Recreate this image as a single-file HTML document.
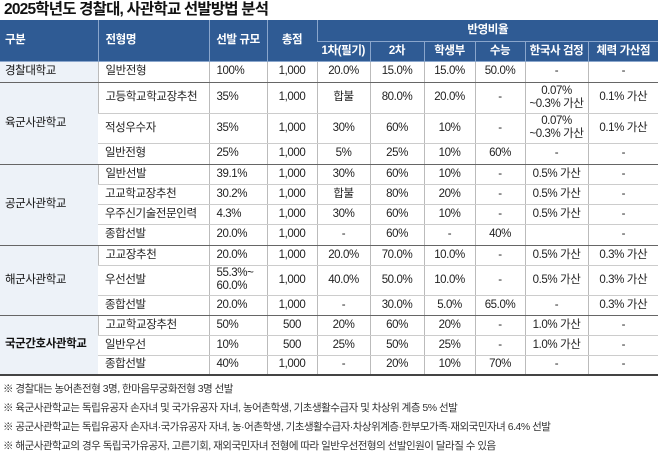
<!DOCTYPE html>
<html><head><meta charset="utf-8"><style>
body{margin:0;width:658px;height:452px;background:#fff;overflow:hidden;font-family:"Liberation Sans","Noto Sans CJK KR",sans-serif;color:#222;}
.t{position:absolute;left:4px;top:0;font-size:15.5px;font-weight:bold;letter-spacing:-0.8px;color:#111;line-height:20px}
table{position:absolute;left:0;top:20px;width:658px;border-collapse:collapse;table-layout:fixed;font-size:11.5px;letter-spacing:-0.4px}
td,th{padding:0;text-align:center;border-left:1px solid #bbb;border-bottom:1px solid #ccc;line-height:13px}
th{background:#2f5b94;color:#fff;font-weight:bold;border-left:1px solid #8aa6cc;border-bottom:1px solid #8aa6cc;font-size:11.5px}
tr>:first-child{border-left:none}
.g{background:#edf2f8;text-align:left;padding-left:5px;color:#111}
.l{text-align:left;padding-left:7px}
.b td{border-bottom:1px solid #666}
.z td{border-bottom:2px solid #444}
.notes{position:absolute;left:3px;top:380px;font-size:10.5px;letter-spacing:-0.5px;line-height:19px;color:#333}
</style></head><body>
<div class="t">2025학년도 경찰대, 사관학교 선발방법 분석</div>
<table>
<colgroup><col style="width:98px"><col style="width:111px"><col style="width:58px"><col style="width:50px"><col style="width:53px"><col style="width:54px"><col style="width:51px"><col style="width:50px"><col style="width:63px"><col style="width:70px"></colgroup>
<tr style="height:21px"><th rowspan="2" style="text-align:left;padding-left:5px">구분</th><th rowspan="2" style="text-align:left;padding-left:7px">전형명</th><th rowspan="2">선발 규모</th><th rowspan="2">총점</th><th colspan="6">반영비율</th></tr>
<tr style="height:20px"><th>1차(필기)</th><th>2차</th><th>학생부</th><th>수능</th><th>한국사 검정</th><th>체력 가산점</th></tr>
<tr class="b" style="height:21px"><td class="g">경찰대학교</td><td class="l">일반전형</td><td class="l">100%</td><td>1,000</td><td>20.0%</td><td>15.0%</td><td>15.0%</td><td>50.0%</td><td>-</td><td>-</td></tr>
<tr style="height:31px"><td class="g" rowspan="3" style="border-bottom:1px solid #666">육군사관학교</td><td class="l">고등학교학교장추천</td><td class="l">35%</td><td>1,000</td><td>합불</td><td>80.0%</td><td>20.0%</td><td>-</td><td>0.07%<br>~0.3% 가산</td><td>0.1% 가산</td></tr>
<tr style="height:30px"><td class="l">적성우수자</td><td class="l">35%</td><td>1,000</td><td>30%</td><td>60%</td><td>10%</td><td>-</td><td>0.07%<br>~0.3% 가산</td><td>0.1% 가산</td></tr>
<tr class="b" style="height:21px"><td class="l">일반전형</td><td class="l">25%</td><td>1,000</td><td>5%</td><td>25%</td><td>10%</td><td>60%</td><td>-</td><td>-</td></tr>
<tr style="height:20px"><td class="g" rowspan="4" style="border-bottom:1px solid #666">공군사관학교</td><td class="l">일반선발</td><td class="l">39.1%</td><td>1,000</td><td>30%</td><td>60%</td><td>10%</td><td>-</td><td>0.5% 가산</td><td>-</td></tr>
<tr style="height:20px"><td class="l">고교학교장추천</td><td class="l">30.2%</td><td>1,000</td><td>합불</td><td>80%</td><td>20%</td><td>-</td><td>0.5% 가산</td><td>-</td></tr>
<tr style="height:20px"><td class="l">우주신기술전문인력</td><td class="l">4.3%</td><td>1,000</td><td>30%</td><td>60%</td><td>10%</td><td>-</td><td>0.5% 가산</td><td>-</td></tr>
<tr class="b" style="height:21px"><td class="l">종합선발</td><td class="l">20.0%</td><td>1,000</td><td>-</td><td>60%</td><td>-</td><td>40%</td><td></td><td>-</td></tr>
<tr style="height:20px"><td class="g" rowspan="3" style="border-bottom:1px solid #666">해군사관학교</td><td class="l">고교장추천</td><td class="l">20.0%</td><td>1,000</td><td>20.0%</td><td>70.0%</td><td>10.0%</td><td>-</td><td>0.5% 가산</td><td>0.3% 가산</td></tr>
<tr style="height:30px"><td class="l">우선선발</td><td class="l">55.3%~<br>60.0%</td><td>1,000</td><td>40.0%</td><td>50.0%</td><td>10.0%</td><td>-</td><td>0.5% 가산</td><td>0.3% 가산</td></tr>
<tr class="b" style="height:20px"><td class="l">종합선발</td><td class="l">20.0%</td><td>1,000</td><td>-</td><td>30.0%</td><td>5.0%</td><td>65.0%</td><td>-</td><td>0.3% 가산</td></tr>
<tr style="height:20px"><td class="g" rowspan="3" style="border-bottom:2px solid #444;font-weight:bold">국군간호사관학교</td><td class="l">고교학교장추천</td><td class="l">50%</td><td>500</td><td>20%</td><td>60%</td><td>20%</td><td>-</td><td>1.0% 가산</td><td>-</td></tr>
<tr style="height:20px"><td class="l">일반우선</td><td class="l">10%</td><td>500</td><td>25%</td><td>50%</td><td>25%</td><td>-</td><td>1.0% 가산</td><td>-</td></tr>
<tr class="z" style="height:20px"><td class="l">종합선발</td><td class="l">40%</td><td>1,000</td><td>-</td><td>20%</td><td>10%</td><td>70%</td><td>-</td><td>-</td></tr>
</table>
<div class="notes">※ 경찰대는 농어촌전형 3명, 한마음무궁화전형 3명 선발<br>※ 육군사관학교는 독립유공자 손자녀 및 국가유공자 자녀, 농어촌학생, 기초생활수급자 및 차상위 계층 5% 선발<br>※ 공군사관학교는 독립유공자 손자녀·국가유공자 자녀, 농·어촌학생, 기초생활수급자·차상위계층·한부모가족·재외국민자녀 6.4% 선발<br>※ 해군사관학교의 경우 독립국가유공자, 고른기회, 재외국민자녀 전형에 따라 일반우선전형의 선발인원이 달라질 수 있음</div>
</body></html>
